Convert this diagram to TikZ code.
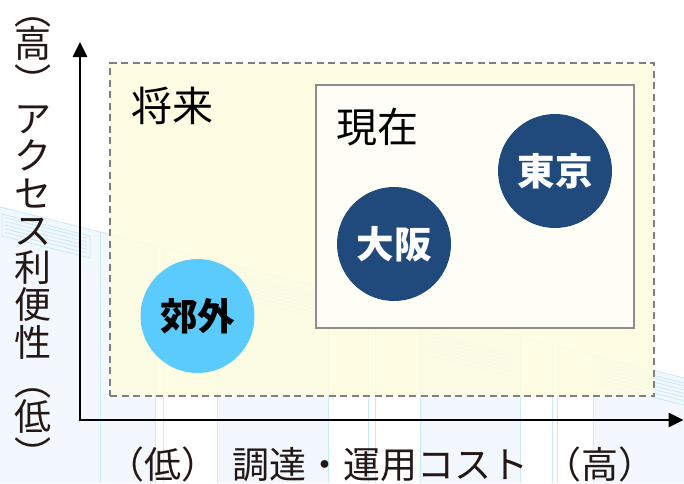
\documentclass[tikz,border=0pt]{standalone}
\usepackage{fontspec}
\usetikzlibrary{arrows.meta}
\newfontfamily\jp{Noto Sans CJK JP}

\definecolor{cityblue}{HTML}{214A7C}
\definecolor{suburbblue}{HTML}{5BCBFE}
\definecolor{futurefill}{HTML}{FEFDE0}
\definecolor{nowfill}{HTML}{FFFFF8}
\definecolor{boxgray}{HTML}{808080}
\definecolor{bgline}{HTML}{CBEAF7}
\definecolor{bgtint}{HTML}{F2F8FD}
\definecolor{inkdark}{HTML}{231815}

\newcommand\axfont{\jp\fontsize{37}{40}\selectfont}
\newcommand\areafont{\jp\fontsize{41}{44}\selectfont}
\newcommand\cityfont{\jp\bfseries\fontsize{37.5}{40}\selectfont}

\begin{document}
\begin{tikzpicture}[x=1pt,y=-1pt,
  bgstroke/.style={draw=bgline,line width=0.9pt},
  axisline/.style={line width=2.8pt,black,
    {Triangle[length=15pt,width=14pt]}-{Triangle[length=15pt,width=14pt]}},
  axlabel/.style={inner sep=0pt,text=inkdark,font=\axfont},
  futurebox/.style={draw=boxgray,line width=1.8pt,dash pattern=on 7pt off 4.5pt,
    fill=futurefill,fill opacity=0.85,text opacity=1,
    minimum width=544pt,minimum height=333pt,inner sep=0pt},
  nowbox/.style={draw=boxgray!90,line width=1.8pt,
    fill=nowfill,fill opacity=0.9,text opacity=1,
    minimum width=318pt,minimum height=243pt,inner sep=0pt},
  arealabel/.style={inner sep=0pt,text=black,font=\areafont},
  citydisc/.style={circle,fill=cityblue,text=white,minimum size=114pt,
    inner sep=0pt,font=\cityfont},
  suburbdisc/.style={circle,fill=suburbblue,text=black,minimum size=114pt,
    inner sep=0pt,font=\cityfont},
]
\useasboundingbox (0,0) rectangle (684,483);
\fill[white] (0,0) rectangle (684,483);

% faint building in the background
\foreach \a/\b in {0/155,217/328,420/520,593/684}
  \fill[bgtint] (\a,{207+0.25*\a}) -- (\b,{207+0.25*\b}) -- (\b,483) -- (\a,483) -- cycle;
\draw[bgstroke] (0,207) -- (684,378);
\foreach \x in {100,155,163,217,328,368,375,420,520,552,557,593}
  \draw[bgstroke] (\x,{207+0.25*\x}) -- (\x,483);
\foreach \x/\y in {2/214,228/273,427/333,600/362}{
  \begin{scope}[shift={(\x,\y)}]
    \draw[bgstroke] (0,0) -- (88,22) -- (88,44) -- (0,22) -- cycle;
    \foreach \k in {1,...,5}
      \draw[bgstroke] (3,{3.7*\k}) -- (85,{3.7*\k+20.5});
  \end{scope}
}

% areas
\node[futurebox] (future) at (382,229.5) {};
\node[arealabel] (futurelabel) at (172.5,106) {将来};
\node[nowbox] (now) at (475,206.5) {};
\node[arealabel] (nowlabel) at (377.5,127.5) {現在};

% locations
\node[citydisc] (tokyo) at (555,171) {東京};
\node[citydisc] (osaka) at (394,244) {大阪};
\node[suburbdisc] (suburb) at (197.5,316) {郊外};

% axes
\coordinate (origin) at (80,420);
\coordinate (ytip) at (80,42);
\coordinate (xtip) at (683.5,420);
\draw[axisline] (ytip) -- (origin) -- (xtip);

% axis labels (vertical one is set character by character)
\foreach \c/\d [count=\i from 0] in
    {︵/4,高/0,︶/0,ア/0,ク/0,セ/0,ス/0,利/0,便/0,性/0,︵/2,低/0,︶/0}
  \node[axlabel,anchor=base] (ylab-\i) at (33,{6.5+37.3*\i+14+\d}) {\c};
\node[axlabel,anchor=base] (xlab) at (381.5,478)
  {（低）\hspace{15pt}調達・運用コスト\hspace{16pt}（高）};
\end{tikzpicture}
\end{document}
